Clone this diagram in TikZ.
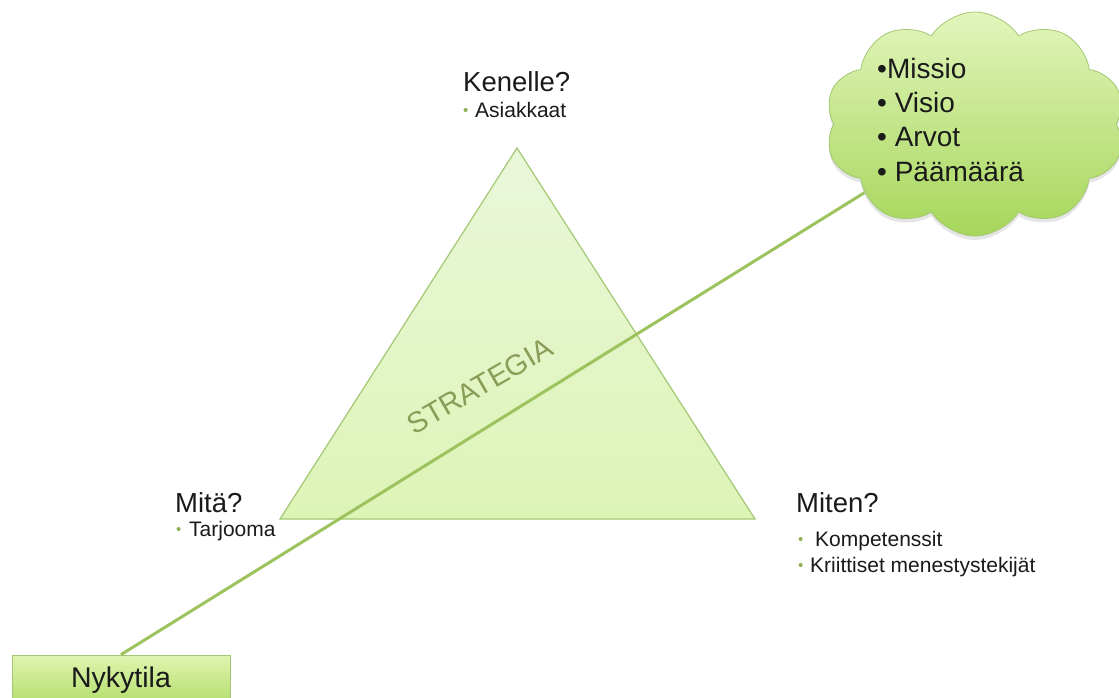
\documentclass[tikz,border=0pt]{standalone}
\usepackage{fontspec}
\setmainfont{Liberation Sans}
\usetikzlibrary{shapes.symbols,shadings,shadows}
\definecolor{edgegreen}{HTML}{A3C873}
\definecolor{linegreen}{HTML}{9CC35E}
\definecolor{bul}{HTML}{8DB155}
\definecolor{olivetext}{HTML}{8A9C58}
\definecolor{txt}{HTML}{1A1A1A}
\definecolor{tritop}{HTML}{EAF7DA}
\definecolor{tribot}{HTML}{DDF4B6}
\definecolor{cltop}{HTML}{E2F5BC}
\definecolor{clbot}{HTML}{A6D65A}
\definecolor{bxtop}{HTML}{E0F4B0}
\definecolor{bxbot}{HTML}{B2DD6A}
\newcommand\gb[1]{\makebox[#1pt][l]{\raisebox{1.5pt}{\textcolor{bul}{\fontsize{15}{15}\selectfont •}}}}
\begin{document}
\begin{tikzpicture}[x=1pt,y=-1pt,
  title/.style={anchor=base west,inner sep=0pt,text=txt,font=\fontsize{27.5}{33}\selectfont},
  item/.style={anchor=base west,inner sep=0pt,text=txt,font=\fontsize{21}{25}\selectfont},
  cloudtext/.style={anchor=base west,inner sep=0pt,text=txt,font=\fontsize{28}{33}\selectfont},
  tri/.style={draw=edgegreen,line width=1.2pt,top color=tritop,bottom color=tribot},
  link/.style={draw=linegreen,line width=3pt},
  cloudshape/.style={cloud,cloud puffs=10,cloud puff arc=115,aspect=1.4,draw=edgegreen,line width=0.8pt,
    top color=cltop,bottom color=clbot,minimum width=300pt,minimum height=224pt,inner sep=0pt,
    drop shadow={opacity=0.2,shadow xshift=0pt,shadow yshift=-4pt}},
  boxshape/.style={rectangle,draw=edgegreen,line width=0.8pt,top color=bxtop,bottom color=bxbot,
    minimum width=218pt,minimum height=50pt,inner sep=0pt,text=txt,font=\fontsize{28.5}{33}\selectfont},
  strat/.style={rotate=30,text=olivetext,inner sep=0pt,font=\fontsize{29}{33}\selectfont}]
\useasboundingbox (0,0) rectangle (1119,697);
\fill[white] (0,0) rectangle (1119,697);
% triangle
\coordinate (apex) at (517,148);
\coordinate (bl) at (280,519);
\coordinate (br) at (755,519);
\path[tri] (apex) -- (bl) -- (br) -- cycle;
\node[strat] (strategia) at (480,386) {STRATEGIA};
% cloud and current state box
\node[cloudshape] (cl) at (975,124) {};
\node[boxshape] (nyk) at (121,680) {Nykytila};
\draw[link] (nyk.north) -- (cl);
% cloud text
\node[cloudtext] (missio) at (877,78) {•Missio};
\node[cloudtext] (visio) at (877,112) {• Visio};
\node[cloudtext] (arvot) at (877,146) {• Arvot};
\node[cloudtext] (paamaara) at (877,181) {• Päämäärä};
% labels
\node[title] (kenelle) at (463,91) {Kenelle?};
\node[item] (asiakkaat) at (463,117) {\gb{12}Asiakkaat};
\node[title] (mita) at (175,512) {Mitä?};
\node[item] (tarjooma) at (176,536) {\gb{13}Tarjooma};
\node[title] (miten) at (796,512) {Miten?};
\node[item] (kompetenssit) at (798,546) {\gb{17}Kompetenssit};
\node[item] (kriittiset) at (798,572) {\gb{12}Kriittiset menestystekijät};
\end{tikzpicture}
\end{document}
